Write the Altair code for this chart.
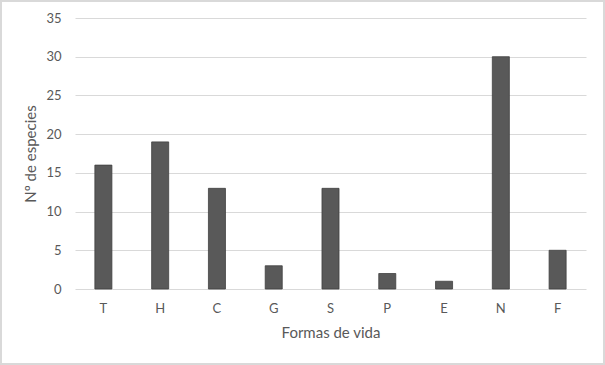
import altair as alt
import pandas as pd

categories = ["T", "H", "C", "G", "S", "P", "E", "N", "F"]
values = [16, 19, 13, 3, 13, 2, 1, 30, 5]

df = pd.DataFrame({"forma": categories, "n": values})

FONT = "Lato"
TXT = "#595959"

bars = alt.Chart(df).mark_bar(color="#595959", stroke="#404040", strokeWidth=0.8).encode(
    x=alt.X("forma:N", sort=categories,
            scale=alt.Scale(paddingInner=0.7, paddingOuter=0.35),
            axis=alt.Axis(title="Formas de vida", labelAngle=0, domain=False, ticks=False,
                          labelPadding=13, titlePadding=10, grid=False)),
    y=alt.Y("n:Q", scale=alt.Scale(domain=[0, 35], nice=False),
            axis=alt.Axis(title="Nº de especies", values=[0, 5, 10, 15, 20, 25, 30, 35],
                          domain=False, ticks=False, labelPadding=14, titlePadding=7,
                          grid=True, gridColor="#d9d9d9", gridWidth=1)),
)

frame = alt.Chart(df).mark_rect(fill=None, stroke="#d9d9d9", strokeWidth=1.5, clip=False).encode(
    x=alt.value(-74), x2=alt.value(529), y=alt.value(-17), y2=alt.value(346)
)

chart = alt.layer(frame, bars).properties(
    width=511, height=271,
    padding={"left": 75, "top": 18, "right": 19, "bottom": 76},
    autosize=alt.AutoSizeParams(type="none"),
    background="white",
).configure_view(stroke=None).configure_axis(
    labelFont=FONT, titleFont=FONT, labelColor=TXT, titleColor=TXT,
    labelFontSize=13, titleFontSize=15, titleFontWeight="normal",
)

chart.save("out.html", embed_options={"renderer": "svg", "actions": False})
